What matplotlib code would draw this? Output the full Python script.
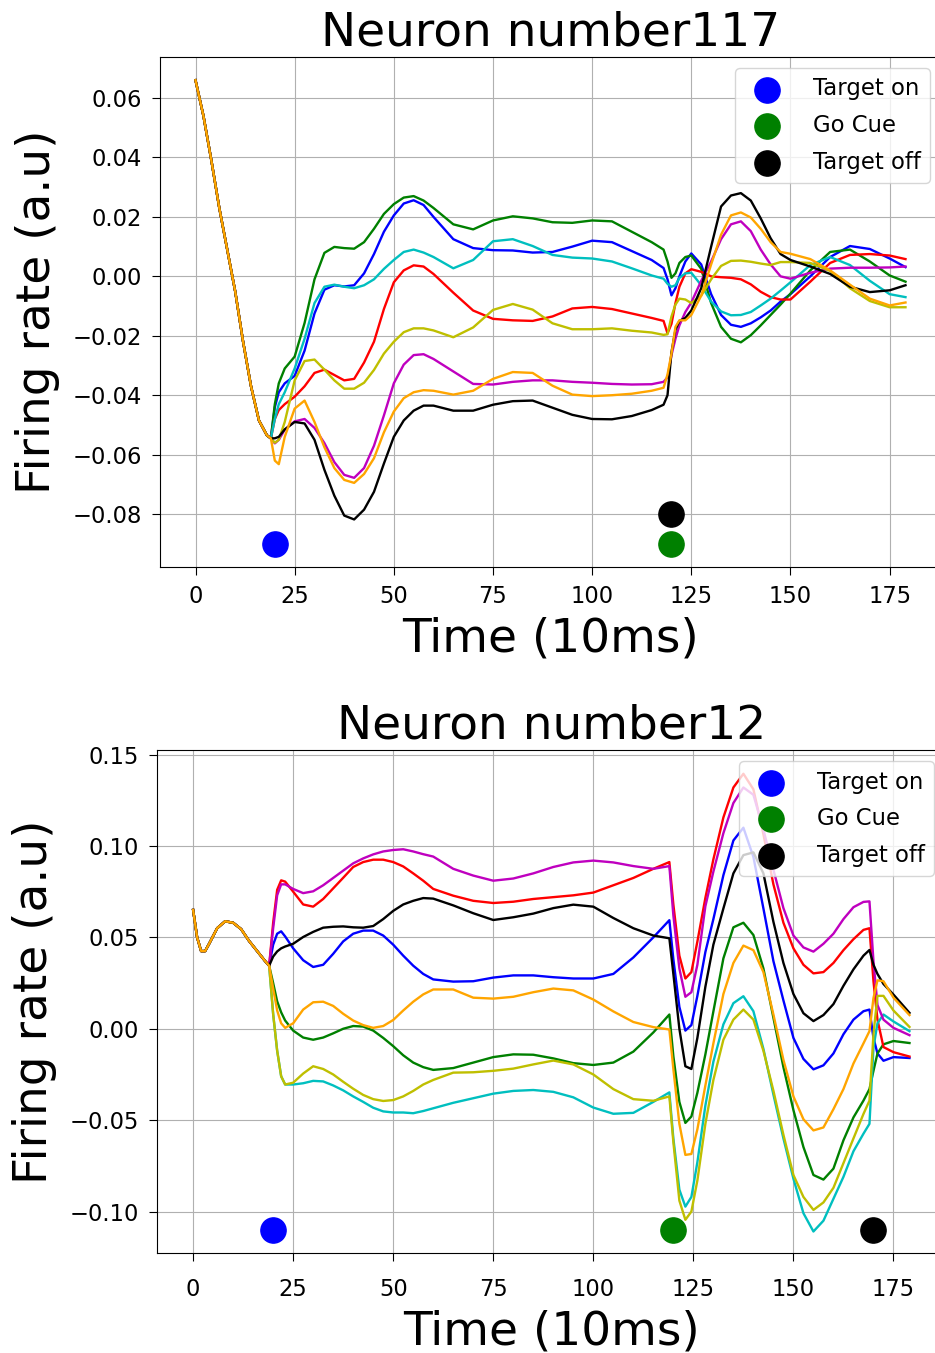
import numpy as np
import matplotlib
matplotlib.use('Agg')
import matplotlib.pyplot as plt

colors = ['b', 'g', 'r', 'c', 'm', 'y', 'k', 'orange']

# ---- Neuron 117 (top) ----
pre_t_117 = [0, 2, 4, 6, 8, 10, 12, 14, 16, 18, 19]
pre_117 = [0.066, 0.054, 0.039, 0.023, 0.009, -0.005, -0.022, -0.037, -0.0485, -0.0535, -0.0545]

t_117 = [20, 21, 22.5, 25, 27.5, 30, 32.5, 35, 37.5, 40,
         42.5, 45, 47.5, 50, 52.5, 55, 57.5, 60, 65, 70,
         75, 80, 85, 90, 95, 100, 105, 110, 115, 118,
         119, 120, 121, 122, 123.5, 125, 127.5, 130, 132.5, 135,
         137.5, 140, 142.5, 145, 147.5, 150, 155, 160, 165, 170,
         175, 179]

b_117 = [-0.044, -0.039, -0.036, -0.0335, -0.025, -0.0125, -0.0045, -0.003, -0.0034, -0.003,
         0.001, 0.0075, 0.015, 0.0205, 0.0245, 0.0256, 0.024, 0.020, 0.0125, 0.0095,
         0.0088, 0.0087, 0.008, 0.0082, 0.010, 0.012, 0.0115, 0.0085, 0.0055, 0.0028,
         -0.001, -0.0064, -0.004, 0.0, 0.005, 0.0077, 0.004, -0.006, -0.013, -0.0163,
         -0.017, -0.0158, -0.0138, -0.0115, -0.0085, -0.006, 0.0, 0.0065, 0.0102, 0.0092,
         0.006, 0.0031]
g_117 = [-0.043, -0.036, -0.031, -0.027, -0.0157, -0.001, 0.0079, 0.0099, 0.0095, 0.0093,
         0.0115, 0.016, 0.021, 0.0243, 0.0265, 0.027, 0.0255, 0.023, 0.0175, 0.0158,
         0.0188, 0.0202, 0.0195, 0.0182, 0.018, 0.0188, 0.0185, 0.015, 0.0115, 0.009,
         0.005, -0.0005, 0.001, 0.0045, 0.0065, 0.007, 0.0025, -0.009, -0.017, -0.021,
         -0.0222, -0.0198, -0.0165, -0.013, -0.0095, -0.0058, 0.002, 0.0082, 0.009, 0.005,
         0.0003, -0.0018]
r_117 = [-0.048, -0.045, -0.043, -0.0405, -0.037, -0.0325, -0.0314, -0.0332, -0.035, -0.0345,
         -0.029, -0.022, -0.011, -0.002, 0.002, 0.0037, 0.0033, 0.0008, -0.0055, -0.0115,
         -0.0143, -0.0148, -0.015, -0.0135, -0.0108, -0.0103, -0.011, -0.0125, -0.014, -0.015,
         -0.0192, -0.016, -0.009, -0.0035, 0.001, 0.0024, 0.0015, 0.0, -0.0003, -0.0005,
         -0.001, -0.0027, -0.0052, -0.007, -0.0078, -0.0078, -0.0018, 0.0045, 0.0072, 0.0075,
         0.007, 0.0058]
c_117 = [-0.048, -0.043, -0.039, -0.031, -0.021, -0.009, -0.0035, -0.0028, -0.0035, -0.004,
         -0.003, -0.001, 0.0025, 0.0055, 0.0082, 0.009, 0.008, 0.0065, 0.0027, 0.0055,
         0.0118, 0.0125, 0.0102, 0.0072, 0.0063, 0.006, 0.005, 0.0027, 0.0003, -0.0008,
         -0.0025, -0.0035, -0.003, -0.0005, 0.001, 0.0012, -0.003, -0.0085, -0.0118, -0.0131,
         -0.013, -0.012, -0.0098, -0.0075, -0.0048, -0.002, 0.0038, 0.0065, 0.0038, -0.0015,
         -0.006, -0.007]
m_117 = [-0.0562, -0.055, -0.0516, -0.0488, -0.048, -0.051, -0.0561, -0.0625, -0.0668, -0.0678,
         -0.0645, -0.057, -0.0468, -0.036, -0.0297, -0.0265, -0.0262, -0.0278, -0.032, -0.0362,
         -0.0364, -0.0355, -0.035, -0.035, -0.0355, -0.0358, -0.0362, -0.0364, -0.0363, -0.0355,
         -0.034, -0.0265, -0.021, -0.0165, -0.012, -0.0088, -0.0015, 0.005, 0.0125, 0.0175,
         0.0185, 0.0152, 0.009, 0.004, 0.0, -0.0008, 0.0012, 0.0026, 0.0029, 0.0029,
         0.003, 0.0033]
y_117 = [-0.056, -0.055, -0.049, -0.035, -0.0285, -0.028, -0.0314, -0.035, -0.0378, -0.0378,
         -0.0358, -0.0315, -0.026, -0.022, -0.0188, -0.0175, -0.0175, -0.0182, -0.0205, -0.0172,
         -0.0113, -0.0093, -0.0112, -0.0158, -0.0178, -0.0178, -0.0175, -0.0183, -0.0189, -0.0197,
         -0.0195, -0.0135, -0.0095, -0.0075, -0.0078, -0.009, -0.0065, -0.001, 0.0035, 0.0052,
         0.0053, 0.0049, 0.0043, 0.0038, 0.0048, 0.0048, 0.0045, 0.0018, -0.004, -0.0083,
         -0.0104, -0.0104]
k_117 = [-0.0545, -0.054, -0.0515, -0.049, -0.0495, -0.055, -0.0651, -0.0738, -0.0805, -0.0818,
         -0.0785, -0.0725, -0.063, -0.054, -0.0485, -0.0452, -0.0435, -0.0435, -0.0452, -0.0452,
         -0.0432, -0.042, -0.0418, -0.0442, -0.0466, -0.048, -0.0481, -0.047, -0.045, -0.0432,
         -0.040, -0.0255, -0.018, -0.015, -0.014, -0.0115, -0.004, 0.010, 0.0235, 0.0272,
         0.028, 0.0255, 0.0195, 0.0128, 0.0075, 0.0055, 0.0033, 0.0008, -0.0035, -0.0053,
         -0.0047, -0.003]
o_117 = [-0.062, -0.0632, -0.054, -0.0445, -0.0418, -0.049, -0.0575, -0.0645, -0.0685, -0.0695,
         -0.0665, -0.0612, -0.0525, -0.0455, -0.041, -0.039, -0.0383, -0.0385, -0.0398, -0.0385,
         -0.0345, -0.0322, -0.0325, -0.0368, -0.0398, -0.0403, -0.040, -0.0395, -0.0385, -0.0375,
         -0.033, -0.026, -0.017, -0.0148, -0.0148, -0.013, -0.0065, 0.004, 0.014, 0.0205,
         0.0215, 0.0198, 0.016, 0.0115, 0.0082, 0.0076, 0.0058, 0.002, -0.0028, -0.0075,
         -0.0098, -0.0088]
series_117 = [b_117, g_117, r_117, c_117, m_117, y_117, k_117, o_117]
events_117 = [('Target on', 20, -0.09, 'b'), ('Go Cue', 120, -0.09, 'g'), ('Target off', 120, -0.08, 'k')]

# ---- Neuron 12 (bottom) ----
pre_t_12 = [0, 1, 2, 3, 4, 6, 8, 10, 12, 14, 16, 18, 19]
pre_12 = [0.065, 0.05, 0.0425, 0.0425, 0.0465, 0.055, 0.0588, 0.058, 0.0545, 0.048, 0.0425, 0.037, 0.0345]

t_12 = [20, 21, 22, 23, 25,
        27.5, 30, 32.5, 35, 37.5,
        40, 42.5, 45, 47.5, 50,
        52.5, 55, 57.5, 60, 65,
        70, 75, 80, 85, 90,
        95, 100, 105, 110, 115,
        119, 120, 121.5, 123, 124.5,
        126, 128, 130, 132.5, 135,
        137.5, 140, 142.5, 145, 147.5,
        150, 152.5, 155, 157.5, 160,
        162.5, 165, 167.5, 169, 170,
        171, 172.5, 175, 179]

b_12 = [0.046, 0.052, 0.0533, 0.0505, 0.044,
        0.0375, 0.0338, 0.035, 0.041, 0.0478,
        0.052, 0.0537, 0.0537, 0.051, 0.046,
        0.040, 0.0345, 0.030, 0.027, 0.0258,
        0.026, 0.028, 0.0292, 0.0292, 0.0282,
        0.0275, 0.0275, 0.030, 0.039, 0.050,
        0.0594, 0.038, 0.012, -0.001, 0.002,
        0.018, 0.042, 0.060, 0.084, 0.103,
        0.110, 0.094, 0.0658, 0.037, 0.0155,
        -0.005, -0.0165, -0.0222, -0.020, -0.0135,
        -0.003, 0.005, 0.0096, 0.0105, -0.005,
        -0.0135, -0.0175, -0.0155, -0.016]
g_12 = [0.025, 0.015, 0.009, 0.0045, -0.001,
        -0.0048, -0.006, -0.0048, -0.0025, 0.0,
        0.0015, 0.0012, -0.001, -0.005, -0.0095,
        -0.0145, -0.0185, -0.021, -0.0225, -0.0215,
        -0.0185, -0.0155, -0.014, -0.0142, -0.0162,
        -0.0188, -0.0198, -0.0185, -0.0125, -0.002,
        0.0078, -0.015, -0.040, -0.0515, -0.048,
        -0.035, -0.014, 0.0095, 0.0385, 0.0555,
        0.058, 0.0513, 0.033, 0.006, -0.021,
        -0.0445, -0.0647, -0.080, -0.0825, -0.0765,
        -0.061, -0.0485, -0.0393, -0.033, -0.023,
        -0.0135, -0.0085, -0.0067, -0.0078]
r_12 = [0.058, 0.076, 0.0812, 0.0805, 0.075,
        0.068, 0.0668, 0.071, 0.0768, 0.0826,
        0.0885, 0.0912, 0.0925, 0.0925, 0.0912,
        0.0888, 0.085, 0.081, 0.0765, 0.0728,
        0.070, 0.0688, 0.0695, 0.071, 0.072,
        0.073, 0.0745, 0.0785, 0.0825, 0.0875,
        0.0912, 0.068, 0.040, 0.0275, 0.031,
        0.0477, 0.0716, 0.0927, 0.1156, 0.132,
        0.1395, 0.131, 0.1064, 0.079, 0.058,
        0.044, 0.035, 0.0303, 0.031, 0.036,
        0.043, 0.049, 0.0541, 0.055, 0.026,
        0.005, -0.010, -0.0128, -0.0152]
c_12 = [0.008, -0.012, -0.026, -0.0305, -0.0305,
        -0.0298, -0.0285, -0.0288, -0.031, -0.0337,
        -0.037, -0.040, -0.0432, -0.0452, -0.0458,
        -0.0458, -0.0462, -0.045, -0.0435, -0.0405,
        -0.038, -0.0355, -0.034, -0.0335, -0.0345,
        -0.0375, -0.0431, -0.0465, -0.046, -0.040,
        -0.0348, -0.060, -0.088, -0.0973, -0.092,
        -0.073, -0.042, -0.018, 0.0024, 0.014,
        0.0178, 0.0096, -0.011, -0.036, -0.060,
        -0.082, -0.1009, -0.1109, -0.105, -0.093,
        -0.081, -0.067, -0.0574, -0.052, -0.0103,
        0.003, 0.0078, 0.004, -0.0013]
m_12 = [0.055, 0.073, 0.079, 0.079, 0.0765,
        0.0742, 0.0752, 0.0785, 0.0825, 0.0865,
        0.0905, 0.0932, 0.0954, 0.097, 0.0978,
        0.0982, 0.097, 0.0955, 0.0942, 0.0875,
        0.0838, 0.081, 0.0822, 0.085, 0.0885,
        0.091, 0.092, 0.091, 0.089, 0.0875,
        0.089, 0.062, 0.033, 0.0175, 0.020,
        0.035, 0.067, 0.086, 0.107, 0.1235,
        0.132, 0.128, 0.109, 0.087, 0.066,
        0.051, 0.0445, 0.0422, 0.0465, 0.052,
        0.060, 0.0665, 0.0694, 0.0697, 0.037,
        0.013, 0.005, 0.0005, -0.0035]
y_12 = [0.008, -0.012, -0.026, -0.0305, -0.0295,
        -0.0245, -0.0205, -0.022, -0.025, -0.029,
        -0.0328, -0.0362, -0.0385, -0.0395, -0.039,
        -0.037, -0.034, -0.0305, -0.028, -0.024,
        -0.0238, -0.023, -0.0218, -0.0195, -0.0174,
        -0.0195, -0.025, -0.033, -0.0385, -0.0394,
        -0.037, -0.062, -0.094, -0.1045, -0.100,
        -0.083, -0.052, -0.028, -0.006, 0.005,
        0.0105, 0.005, -0.012, -0.0339, -0.058,
        -0.080, -0.092, -0.0991, -0.095, -0.087,
        -0.0735, -0.060, -0.0466, -0.0393, -0.003,
        0.018, 0.018, 0.010, 0.001]
k_12 = [0.0395, 0.0423, 0.044, 0.045, 0.0465,
        0.0502, 0.053, 0.0553, 0.0558, 0.056,
        0.0555, 0.0553, 0.0562, 0.060, 0.0645,
        0.068, 0.070, 0.0715, 0.0712, 0.0675,
        0.0632, 0.0595, 0.061, 0.063, 0.066,
        0.0679, 0.0668, 0.0606, 0.055, 0.051,
        0.0495, 0.030, 0.0, -0.0205, -0.022,
        -0.005, 0.023, 0.046, 0.0658, 0.085,
        0.095, 0.0965, 0.085, 0.0585, 0.036,
        0.019, 0.0085, 0.0042, 0.0075, 0.0135,
        0.0235, 0.0325, 0.040, 0.0431, 0.035,
        0.030, 0.0245, 0.0187, 0.0087]
o_12 = [0.022, 0.010, 0.003, 0.0005, 0.003,
        0.0105, 0.0145, 0.0148, 0.0125, 0.0082,
        0.0045, 0.002, 0.0005, 0.0015, 0.0048,
        0.010, 0.0148, 0.0188, 0.0215, 0.0215,
        0.017, 0.0165, 0.0175, 0.020, 0.022,
        0.021, 0.016, 0.0095, 0.0037, 0.0009,
        -0.0004, -0.022, -0.052, -0.069, -0.0685,
        -0.055, -0.031, -0.008, 0.019, 0.036,
        0.0455, 0.043, 0.031, 0.0078, -0.017,
        -0.037, -0.0495, -0.0556, -0.054, -0.044,
        -0.033, -0.019, -0.008, -0.0013, 0.0168,
        0.0265, 0.026, 0.017, 0.0075]
series_12 = [b_12, g_12, r_12, c_12, m_12, y_12, k_12, o_12]
events_12 = [('Target on', 20, -0.11, 'b'), ('Go Cue', 120, -0.11, 'g'), ('Target off', 170, -0.11, 'k')]


def draw_neuron(ax, title, pre_t, pre, t, series, events, ylim, yticks, xpad):
    for vals, col in zip(series, colors):
        ax.plot(pre_t + t, pre + vals, color=col, linewidth=1.7)
    for label, ex, ey, col in events:
        ax.scatter(ex, ey, s=330, color=col, label=label, zorder=3)
    ax.set_xlim(-8.95, 187.95)
    ax.set_ylim(*ylim)
    ax.set_xticks(np.arange(0, 176, 25))
    ax.set_yticks(yticks)
    ax.grid(True)
    ax.tick_params(labelsize=16.3, length=6)
    ax.tick_params(axis='y', pad=7)
    ax.tick_params(axis='x', pad=xpad)
    ax.set_title(title, fontsize=33.8, pad=8)
    ax.set_xlabel('Time (10ms)', fontsize=33.8, labelpad=6)
    ax.set_ylabel('Firing rate (a.u)', fontsize=33.8, labelpad=9)
    ax.legend(loc='upper right', fontsize=16.4, labelspacing=0.6, handletextpad=1.0)


fig = plt.figure(figsize=(9.35, 13.53), dpi=100)
ax1 = fig.add_axes([160 / 935, 1 - 567 / 1353, 781 / 935, 510 / 1353])
ax2 = fig.add_axes([157.3 / 935, 1 - 1252.7 / 1353, 788 / 935, 502.7 / 1353])

draw_neuron(ax1, 'Neuron number117', pre_t_117, pre_117, t_117, series_117, events_117,
            (-0.0978, 0.0738), np.arange(-0.08, 0.061, 0.02), 7)
draw_neuron(ax2, 'Neuron number12', pre_t_12, pre_12, t_12, series_12, events_12,
            (-0.1225, 0.1525), np.arange(-0.10, 0.151, 0.05), 12)

fig.savefig('out.png', dpi=100)
